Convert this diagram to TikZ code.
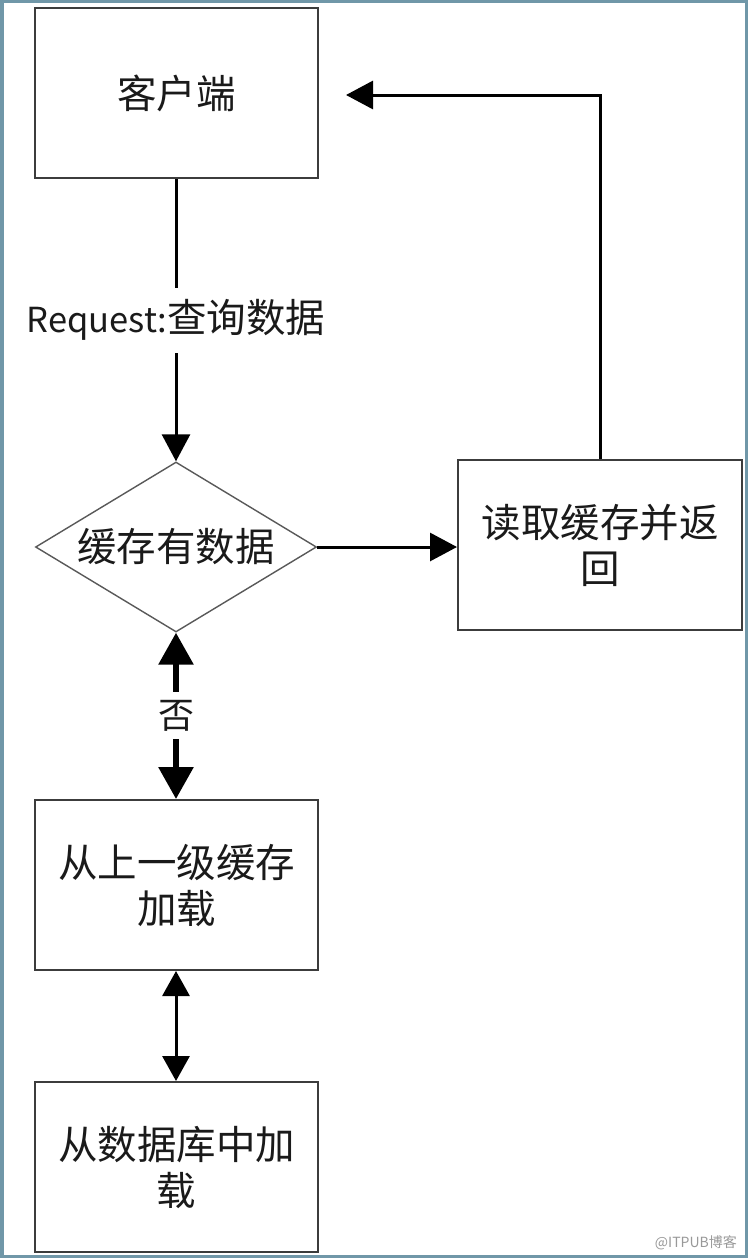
\documentclass[tikz,border=0pt]{standalone}
\usepackage{fontspec}
\setmainfont{Noto Sans CJK SC}
\usetikzlibrary{arrows.meta,shapes.geometric}
\definecolor{framec}{HTML}{7097A8}
\definecolor{boxline}{HTML}{3C3C3C}
\definecolor{txt}{HTML}{1A1A1A}
\tikzset{
  x=1pt,y=-1pt,
  stepbox/.style={draw=boxline,line width=2pt,minimum width=283pt,minimum height=170pt,inner sep=0pt,align=center,text=txt,font=\fontsize{39.5}{46}\selectfont},
  decision/.style={diamond,draw=boxline!85,line width=1.4pt,minimum width=281pt,minimum height=170pt,inner sep=0pt,aspect=1.65,text=txt,font=\fontsize{39.5}{46}\selectfont},
  conn/.style={line width=3pt,-{Triangle[length=27pt,width=28pt]}},
  dconn/.style={line width=3pt,{Triangle[length=25pt,width=27pt]}-{Triangle[length=25pt,width=27pt]}},
  thickconn/.style={line width=6pt,{Triangle[length=32pt,width=34pt]}-{Triangle[length=32pt,width=34pt]}},
  lbl/.style={fill=white,text=txt,inner xsep=2pt,inner ysep=12pt}
}
\begin{document}
\begin{tikzpicture}
\fill[framec] (0,0) rectangle (748,1258);
\fill[white] (4,3) rectangle (745,1255);
\useasboundingbox (0,0) rectangle (748,1258);

\node[stepbox] (client) at (176.5,93) {客户端};
\node[decision] (dia) at (176,547) {缓存有数据};
\node[stepbox,minimum width=284pt] (read) at (600,545) {读取缓存并返\\回};
\node[stepbox] (upper) at (176.5,885) {从上一级缓存\\加载};
\node[stepbox] (db) at (176.5,1167) {从数据库中加\\载};
\coordinate (ret) at (346,95);

\draw[conn] (client.south -| dia.north) -- node[lbl,font=\fontsize{36}{40}\selectfont]{\fontsize{34.5}{40}\selectfont Request:\fontsize{39.5}{40}\selectfont 查询数据} (dia.north);
\draw[conn] (dia.east) -- (dia.east -| read.west);
\draw[conn] (read.north) |- (ret);
\draw[thickconn] (dia.south) -- node[lbl,font=\fontsize{36}{40}\selectfont,inner ysep=8pt]{否} (dia.south |- upper.north);
\draw[dconn] (upper.south -| dia.south) -- (dia.south |- db.north);

\node[anchor=base east,text=black!40,font=\fontsize{14}{16}\selectfont,inner sep=0pt] (wm) at (737,1247) {@ITPUB博客};
\end{tikzpicture}
\end{document}
